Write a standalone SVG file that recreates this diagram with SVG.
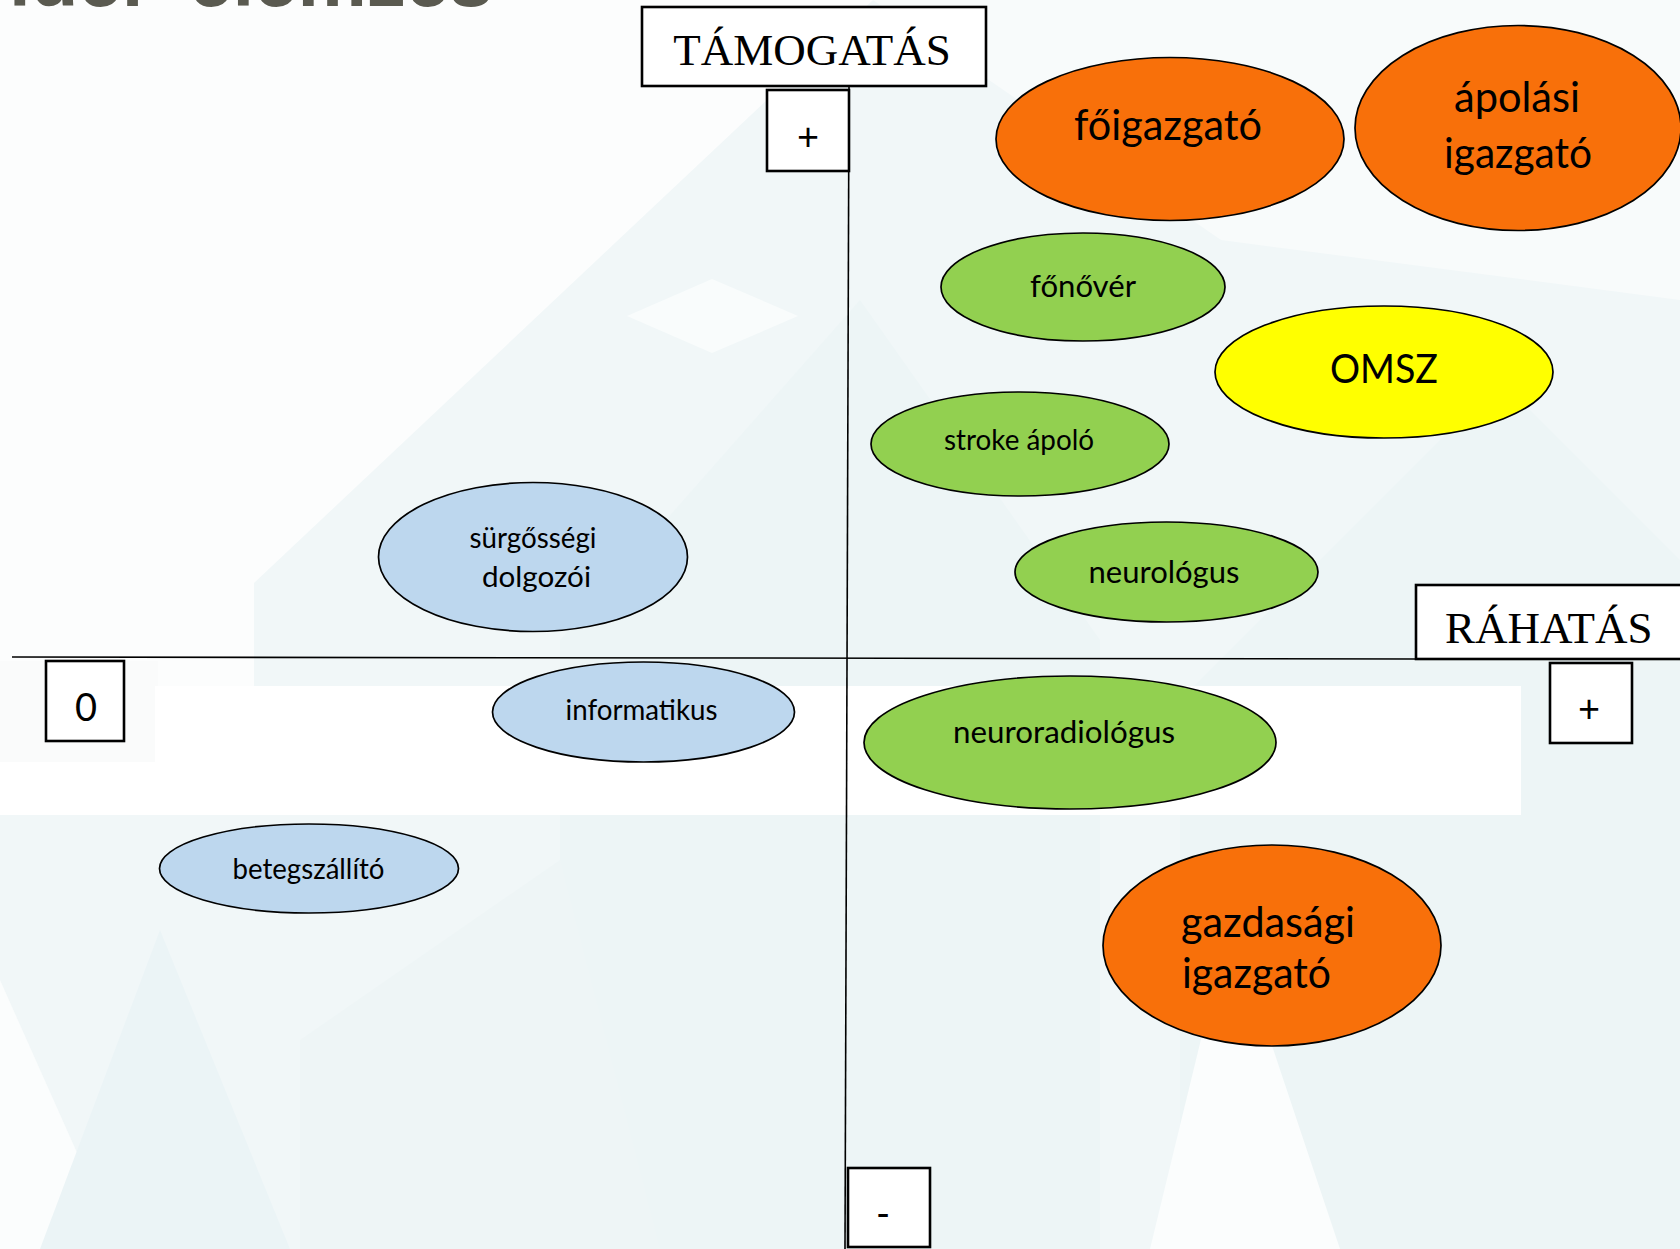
<svg xmlns="http://www.w3.org/2000/svg" width="1680" height="1249" viewBox="0 0 1680 1249">
<style>
.lbl{font-family:"Lato","Open Sans",sans-serif;fill:#000;text-anchor:middle}
.ser{font-family:"Liberation Serif","Times New Roman",serif;fill:#000}
.box{fill:#fff;stroke:#000;stroke-width:2.6}
.el{stroke:#000;stroke-width:1.7}
.or{fill:#f8700a}
.gr{fill:#92d050}
.ye{fill:#ffff00}
.bl{fill:#bdd7ee}
.ax{stroke:#000;stroke-width:1.6;fill:none}
.title{font-family:"Liberation Sans",Arial,sans-serif;font-weight:bold;font-size:78px;fill:#5a5a50}
</style>
<g id="background">
<rect x="0" y="0" width="1680" height="1249" fill="#fcfdfd"/>
<polygon points="0,815 254,815 254,583 873,0 1680,0 1680,1249 0,1249" fill="#f1f7f8"/>
<polygon points="873,0 1680,0 1680,300 1221,240" fill="#f8fbfb"/>
<polygon points="560,1249 560,640 860,300 1100,640 1100,1249" fill="#edf5f6"/>
<polygon points="1180,1249 1180,700 1500,380 1680,560 1680,1249" fill="#edf5f6"/>
<polygon points="627,316 712,279 798,316 712,353" fill="#f9fcfc"/>
<polygon points="0,1249 0,980 120,1249" fill="#fbfdfd"/>
<polygon points="40,1249 160,930 290,1249" fill="#ebf4f6"/>
<polygon points="300,1249 300,1040 560,860 660,1249" fill="#eef5f6"/>
<polygon points="1150,1249 1230,920 1340,1249" fill="#fbfdfd"/>
<rect x="0" y="661" width="158" height="154" fill="#fafbfb"/>
<rect x="155" y="686" width="1366" height="129" fill="#ffffff"/>
<rect x="0" y="762" width="160" height="53" fill="#ffffff"/>
<text class="title" x="9" y="5.5">lder</text>
<text class="title" x="189" y="5.5">elemzés</text>
</g>
<g id="connectors">
<line class="ax" x1="849" y1="86" x2="845" y2="1249"/>
<line class="ax" x1="12" y1="657" x2="1416" y2="659"/>
</g>
<g id="tamogatas">
<rect class="box" x="642" y="7" width="344" height="79"/>
<text class="ser" x="812" y="65" font-size="45" text-anchor="middle">TÁMOGATÁS</text>
</g>
<g id="plus-top">
<rect class="box" x="767" y="90" width="82" height="81"/>
<text class="lbl" x="808" y="150" font-size="38">+</text>
</g>
<g id="rahatas">
<rect class="box" x="1416" y="585" width="280" height="74"/>
<text class="ser" x="1445" y="643" font-size="45">RÁHATÁS</text>
</g>
<g id="plus-right">
<rect class="box" x="1550" y="663" width="82" height="80"/>
<text class="lbl" x="1589" y="722" font-size="38">+</text>
</g>
<g id="zero">
<rect class="box" x="46" y="661" width="78" height="80"/>
<text class="lbl" x="86" y="721" font-size="38">0</text>
</g>
<g id="minus">
<rect class="box" x="848" y="1168" width="82" height="79"/>
<text class="lbl" x="883" y="1227" font-size="38">-</text>
</g>
<g id="foigazgato">
<ellipse class="el or" cx="1170" cy="139" rx="174" ry="81.5"/>
<text class="lbl" x="1168" y="140" font-size="42" textLength="188" lengthAdjust="spacingAndGlyphs">főigazgató</text>
</g>
<g id="apolasi-igazgato">
<ellipse class="el or" cx="1518" cy="128" rx="163" ry="102.5"/>
<text class="lbl" x="1517" y="112" font-size="42" textLength="126" lengthAdjust="spacingAndGlyphs">ápolási</text>
<text class="lbl" x="1518" y="168" font-size="42" textLength="148" lengthAdjust="spacingAndGlyphs">igazgató</text>
</g>
<g id="fonover">
<ellipse class="el gr" cx="1083" cy="287" rx="142" ry="54"/>
<text class="lbl" x="1083" y="297" font-size="31" textLength="106" lengthAdjust="spacingAndGlyphs">főnővér</text>
</g>
<g id="omsz">
<ellipse class="el ye" cx="1384" cy="372" rx="169" ry="66"/>
<text class="lbl" x="1384" y="383" font-size="40" textLength="108" lengthAdjust="spacingAndGlyphs">OMSZ</text>
</g>
<g id="stroke-apolo">
<ellipse class="el gr" cx="1020" cy="444" rx="149" ry="52"/>
<text class="lbl" x="1019" y="450" font-size="28.5" textLength="150" lengthAdjust="spacingAndGlyphs">stroke ápoló</text>
</g>
<g id="neurologus">
<ellipse class="el gr" cx="1166.5" cy="572" rx="151.5" ry="50"/>
<text class="lbl" x="1164" y="583" font-size="31" textLength="151" lengthAdjust="spacingAndGlyphs">neurológus</text>
</g>
<g id="neuroradiologus">
<ellipse class="el gr" cx="1070" cy="742.5" rx="206" ry="66.5"/>
<text class="lbl" x="1064" y="743" font-size="31" textLength="222" lengthAdjust="spacingAndGlyphs">neuroradiológus</text>
</g>
<g id="gazdasagi-igazgato">
<ellipse class="el or" cx="1272" cy="945.5" rx="169" ry="100.5"/>
<text class="lbl" x="1181" y="937" font-size="42" style="text-anchor:start" textLength="174" lengthAdjust="spacingAndGlyphs">gazdasági</text>
<text class="lbl" x="1182" y="988" font-size="42" style="text-anchor:start" textLength="149" lengthAdjust="spacingAndGlyphs">igazgató</text>
</g>
<g id="surgossegi-dolgozoi">
<ellipse class="el bl" cx="533" cy="557" rx="154.5" ry="74.5"/>
<text class="lbl" x="533" y="548" font-size="28.5" textLength="127" lengthAdjust="spacingAndGlyphs">sürgősségi</text>
<text class="lbl" x="536.5" y="587" font-size="28.5" textLength="109" lengthAdjust="spacingAndGlyphs">dolgozói</text>
</g>
<g id="informatikus">
<ellipse class="el bl" cx="643.5" cy="712" rx="151" ry="50"/>
<text class="lbl" x="641.5" y="720" font-size="28.5" textLength="152" lengthAdjust="spacingAndGlyphs">informatikus</text>
</g>
<g id="betegszallito">
<ellipse class="el bl" cx="309" cy="868.5" rx="149.5" ry="44.5"/>
<text class="lbl" x="308.5" y="879" font-size="28.5" textLength="152" lengthAdjust="spacingAndGlyphs">betegszállító</text>
</g>
</svg>
